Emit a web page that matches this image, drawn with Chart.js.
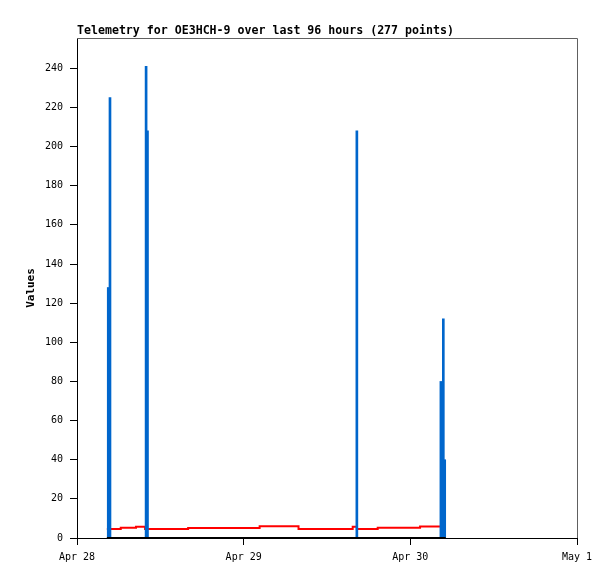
<!DOCTYPE html>
<html>
<head>
<meta charset="utf-8">
<script src="https://cdn.jsdelivr.net/npm/chart.js@4"></script>
<style>
  body { margin: 0; background: #fff; }
  canvas { display: block; }
</style>
</head>
<body>
<canvas id="telemetry" width="615" height="579"></canvas>
<script>
// hours since Apr 28 00:00
const xTickLabels = ['Apr 28', 'Apr 29', 'Apr 30', 'May 1'];
const yTicks = [0, 20, 40, 60, 80, 100, 120, 140, 160, 180, 200, 220, 240];

const spikeHours = [4.5, 4.75, 9.95, 10.15, 40.3, 52.4, 52.75, 52.95];
const spikeValues = [128, 225, 241, 208, 208, 80, 112, 40];

const stepHours = [4.3, 6.3, 8.5, 9.8, 16.0, 26.3, 31.9, 39.7, 40.3, 43.3, 49.4, 53.1];
const stepValues = [4.6, 5.3, 5.8, 4.6, 5.1, 6.0, 4.6, 5.8, 4.6, 5.3, 5.9, 5.9];

const zeroHours = [4.3, 53.1];
const zeroValues = [0, 0];

const titleText = 'Telemetry for OE3HCH-9 over last 96 hours (277 points)';

function pts(xs, ys) {
    return xs.map((x, i) => ({ x: x, y: ys[i] }));
}

const frame = {
    id: 'frame',
    afterDraw(chart) {
        const a = chart.chartArea;
        const c = chart.ctx;
        c.save();
        c.strokeStyle = '#606060';
        c.lineWidth = 1;
        c.beginPath();
        c.moveTo(a.left, a.top + 0.5);
        c.lineTo(a.right + 0.5, a.top + 0.5);
        c.lineTo(a.right + 0.5, a.bottom);
        c.stroke();
        c.fillStyle = '#000';
        c.font = 'bold 11.6px "DejaVu Sans Mono", monospace';
        c.textBaseline = 'alphabetic';
        c.fillText(titleText, a.left, 34);
        c.restore();
    }
};

const ctx = document.getElementById('telemetry').getContext('2d');

const myChart = new Chart(ctx, {
    type: 'bar',
    data: {
        datasets: [{
            type: 'line',
            data: pts(zeroHours, zeroValues),
            borderColor: '#000000',
            borderWidth: 2,
            pointRadius: 0,
            order: 0,
        }, {
            type: 'bar',
            data: pts(spikeHours, spikeValues),
            backgroundColor: '#0066cc',
            barThickness: 2,
            order: 1,
        }, {
            type: 'line',
            data: pts(stepHours, stepValues),
            borderColor: '#ff0000',
            borderWidth: 2,
            pointRadius: 0,
            stepped: true,
            order: 2,
        }],
    },
    options: {
        responsive: false,
        animation: false,
        layout: { padding: { top: 38, right: 38, left: 0, bottom: 0 } },
        plugins: {
            legend: { display: false },
            tooltip: { enabled: false },
        },
        scales: {
            x: {
                type: 'linear',
                min: 0,
                max: 72,
                offset: false,
                afterFit: s => { s.height = 41; },
                afterBuildTicks: s => { s.ticks = xTickLabels.map((l, i) => ({ value: i * 24 })); },
                grid: { drawOnChartArea: false, offset: false, tickLength: 7, color: '#000' },
                border: { color: '#000', width: 1 },
                ticks: {
                    color: '#000',
                    font: { family: '"DejaVu Sans Mono", monospace', size: 10 },
                    padding: 6,
                    maxRotation: 0,
                    callback: (v) => xTickLabels[Math.round(v / 24)],
                },
            },
            y: {
                min: 0,
                max: 255.5,
                afterFit: s => { s.width = 77; },
                afterBuildTicks: s => { s.ticks = yTicks.map(v => ({ value: v })); },
                grid: { drawOnChartArea: false, tickLength: 7, color: '#000' },
                border: { color: '#000', width: 1 },
                ticks: {
                    color: '#000',
                    font: { family: '"DejaVu Sans Mono", monospace', size: 10 },
                    padding: 7,
                },
                title: {
                    display: true,
                    text: 'Values',
                    color: '#000',
                    font: { family: '"DejaVu Sans Mono", monospace', size: 11, weight: 'bold' },
                    padding: { top: 25, bottom: 0 },
                },
            },
        },
    },
    plugins: [frame],
});
</script>
</body>
</html>
